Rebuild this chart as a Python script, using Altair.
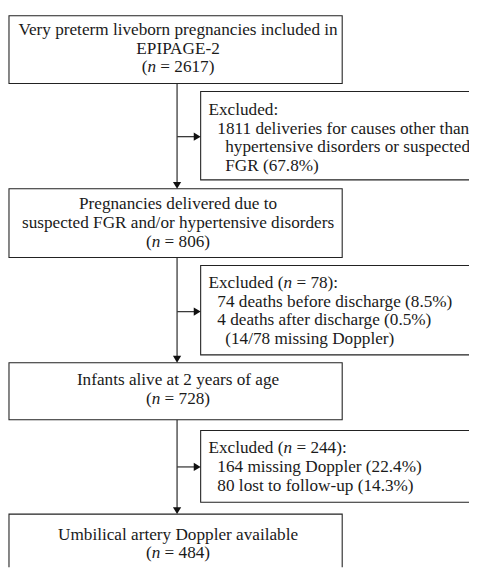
import altair as alt
import pandas as pd

# ---------------- content ----------------
main_lines = [
    ["Very preterm liveborn pregnancies included in", "EPIPAGE-2", "(n = 2617)"],
    ["Pregnancies delivered due to", "suspected FGR and/or hypertensive disorders", "(n = 806)"],
    ["Infants alive at 2 years of age", "(n = 728)"],
    ["Umbilical artery Doppler available", "(n = 484)"],
]
excl_lines = [
    ["Excluded:", "1811 deliveries for causes other than",
     "hypertensive disorders or suspected", "FGR (67.8%)"],
    ["Excluded (n = 78):", "74 deaths before discharge (8.5%)",
     "4 deaths after discharge (0.5%)", "(14/78 missing Doppler)"],
    ["Excluded (n = 244):", "164 missing Doppler (22.4%)", "80 lost to follow-up (14.3%)"],
]
excl_indent = [[0, 1, 2, 2], [0, 1, 1, 2], [0, 1, 1]]

# ---------------- layout ----------------
FONT = "Liberation Serif"
FS = 17.5
main_x = (9, 348)
text_cx = 181
main_box_y = [(11, 80), (187, 257), (364, 422), (518, 600)]
main_line_y = [[26, 45, 63], [203, 222, 241], [382, 401], [539, 558]]
excl_x = (204, 540)
excl_box_y = [(88, 178), (265, 356), (433, 506)]
excl_line_y = [[107, 126, 145, 164], [283, 302, 321, 340], [451, 470, 489]]
indent_x = [212, 221, 229]
arrow_y = [134, 312, 470]
spine_x = 180

# approximate glyph advance widths (Times-like, per 1000 em)
W = {'(': 333, ')': 333, ' ': 250, '=': 564, 'E': 611, 'x': 500, 'c': 444,
     'l': 278, 'u': 500, 'd': 500, 'e': 444, ':': 278}
for dg in "0123456789":
    W[dg] = 500
W_N = 500


def tw(s):
    return sum(W.get(ch, 500) for ch in s) * FS / 1000.0


center_rows, left_rows, italic_rows = [], [], []


def add_rich(line, x0, y):
    """line containing '(n = ...' ; x0 = left start"""
    i = line.index("(n ") + 1
    pre, post = line[:i], line[i + 2:]  # post without leading space
    left_rows.append({"x": x0, "y": y, "t": pre})
    xn = x0 + tw(pre)
    italic_rows.append({"x": xn, "y": y, "t": "n"})
    left_rows.append({"x": xn + W_N * FS / 1000.0 + tw(" "), "y": y, "t": post})


for lines, yl in zip(main_lines, main_line_y):
    for ln, y in zip(lines, yl):
        if "(n " in ln:
            total = tw(ln.replace("n", "", 1)) + W_N * FS / 1000.0
            add_rich(ln, text_cx - total / 2.0, y)
        else:
            center_rows.append({"x": text_cx, "y": y, "t": ln})

for lines, yl, ind in zip(excl_lines, excl_line_y, excl_indent):
    for ln, y, k in zip(lines, yl, ind):
        if "(n " in ln:
            add_rich(ln, indent_x[k], y)
        else:
            left_rows.append({"x": indent_x[k], "y": y, "t": ln})

boxes = [{"x": main_x[0], "x2": main_x[1], "y": a, "y2": b} for a, b in main_box_y] + \
        [{"x": excl_x[0], "x2": excl_x[1], "y": a, "y2": b} for a, b in excl_box_y]

rules = []
for i in range(3):
    rules.append({"x": spine_x, "x2": spine_x, "y": main_box_y[i][1], "y2": main_box_y[i + 1][0] - 3})
    rules.append({"x": spine_x, "x2": excl_x[0] - 3, "y": arrow_y[i], "y2": arrow_y[i]})

down_heads = [{"x": spine_x, "y": main_box_y[i + 1][0]} for i in range(3)]
right_heads = [{"x": excl_x[0], "y": arrow_y[i]} for i in range(3)]

xs = alt.Scale(domain=[8, 477], nice=False, zero=False)
ys = alt.Scale(domain=[8, 572], nice=False, zero=False, reverse=True)
X = lambda f="x": alt.X(f"{f}:Q", scale=xs, axis=None)
Y = lambda f="y": alt.Y(f"{f}:Q", scale=ys, axis=None)

rect = alt.Chart(pd.DataFrame(boxes)).mark_rect(
    fill="white", stroke="#222", strokeWidth=1.1, clip=True
).encode(x=X(), x2="x2:Q", y=Y(), y2="y2:Q")

rule = alt.Chart(pd.DataFrame(rules)).mark_rule(color="#3a3a3a", strokeWidth=1.3).encode(
    x=X(), x2="x2:Q", y=Y(), y2="y2:Q")

dh = alt.Chart(pd.DataFrame(down_heads)).mark_point(
    shape="M-0.6,-1L0.6,-1L0,0Z", filled=True, size=196, color="#111", opacity=1
).encode(x=X(), y=Y())
rh = alt.Chart(pd.DataFrame(right_heads)).mark_point(
    shape="M-1,-0.6L-1,0.6L0,0Z", filled=True, size=196, color="#111", opacity=1
).encode(x=X(), y=Y())

tc = alt.Chart(pd.DataFrame(center_rows)).mark_text(
    font=FONT, fontSize=FS, align="center", baseline="middle", color="#1a1a1a", clip=True
).encode(x=X(), y=Y(), text="t:N")
tl = alt.Chart(pd.DataFrame(left_rows)).mark_text(
    font=FONT, fontSize=FS, align="left", baseline="middle", color="#1a1a1a", clip=True
).encode(x=X(), y=Y(), text="t:N")
ti = alt.Chart(pd.DataFrame(italic_rows)).mark_text(
    font=FONT, fontSize=FS, fontStyle="italic", align="left", baseline="middle",
    color="#1a1a1a", clip=True
).encode(x=X(), y=Y(), text="t:N")

chart = alt.layer(rule, rect, dh, rh, tc, tl, ti).properties(
    width=469, height=564, padding=0, background="white"
).configure_view(strokeWidth=0)

chart.save("out.html", embed_options={"renderer": "svg", "actions": False})
